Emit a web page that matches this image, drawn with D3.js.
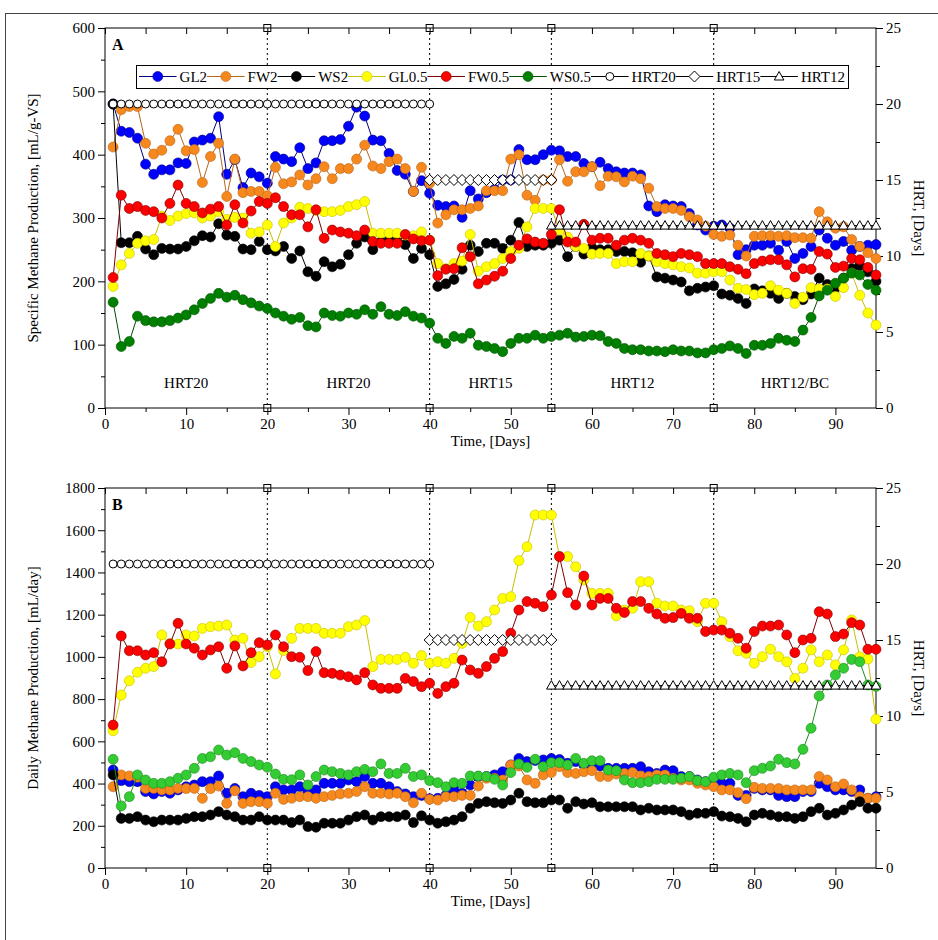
<!DOCTYPE html>
<html><head><meta charset="utf-8">
<script src="https://cdn.jsdelivr.net/npm/d3@7"></script>
<style>
body{margin:0;background:#fff}
text{font-family:"Liberation Serif","Times New Roman",serif;fill:#000}
</style></head><body>
<svg id="chart" width="938" height="940"></svg>
<script>
// ---- data: one value per day, days 1..95 ----
const days = d3.range(1, 96);

const gl2A = [480,437,435,426,385,369,376,376,387,386,
 420,423,426,460,369,392,348,371,365,355,
 397,393,389,411,378,387,422,422,424,445,
 475,461,423,422,402,375,369,342,359,339,
 320,318,319,301,343,330,340,345,360,360,
 408,392,392,400,407,406,397,397,386,381,
 388,378,373,371,371,368,319,310,321,319,
 318,307,289,281,287,289,284,242,250,257,
 257,260,249,263,236,244,255,281,268,257,
 263,249,255,257,258];
const fw2A = [412,471,476,476,418,401,407,422,440,406,
 408,356,397,418,334,393,340,342,342,335,
 380,354,357,368,352,362,381,362,378,378,
 393,415,382,378,389,393,378,342,380,355,
 292,305,313,313,315,319,343,343,343,393,
 400,336,328,360,360,392,358,373,373,381,
 351,366,365,357,366,362,347,318,315,315,
 312,302,297,287,274,271,273,257,240,271,
 272,272,271,272,269,269,268,310,294,284,
 286,266,255,245,236];
const ws2A = [480,261,261,271,251,242,252,251,251,255,
 264,272,270,291,273,271,251,250,263,250,
 248,255,236,248,215,208,231,223,227,242,
 260,270,250,262,265,262,258,236,252,242,
 192,196,203,219,257,247,260,260,252,265,
 293,255,257,257,260,265,239,255,243,253,
 250,250,247,247,245,230,240,207,205,202,
 199,185,189,191,193,180,178,173,165,188,
 185,181,173,181,176,171,180,205,195,190,
 205,220,225,215,200];
const gl05A = [192,226,244,260,264,266,303,296,303,307,
 308,300,303,310,298,301,300,276,278,289,
 255,292,300,317,315,312,310,310,312,318,
 321,326,276,276,276,276,273,272,278,265,
 228,220,228,232,274,216,223,228,236,247,
 252,286,315,315,315,281,270,255,252,243,
 244,244,228,231,231,244,240,231,228,226,
 223,221,213,213,215,215,202,189,187,179,
 181,193,186,181,165,175,190,188,188,176,
 190,213,178,150,131];
const fw05A = [206,336,315,318,312,310,300,323,352,323,
 318,308,314,318,289,321,292,311,326,323,
 332,318,305,305,286,313,268,281,278,276,
 272,281,263,260,260,260,274,267,264,265,
 209,219,220,253,239,196,202,208,216,236,
 257,267,262,260,274,313,262,262,290,265,
 268,268,257,265,268,265,260,244,242,239,
 244,242,239,228,228,228,223,219,212,228,
 232,234,234,226,207,220,219,247,243,222,
 224,236,234,222,210];
const ws05A = [167,97,105,145,138,136,136,138,142,147,
 155,165,173,181,175,178,171,166,161,157,
 150,145,140,143,130,128,150,146,145,150,
 148,155,148,160,148,146,152,145,142,134,
 110,102,113,110,118,99,97,94,89,102,
 110,110,115,110,113,115,118,112,113,115,
 114,105,102,94,92,92,90,90,89,92,
 90,90,87,87,92,94,98,94,86,99,
 99,102,110,107,105,123,143,177,186,197,
 205,213,210,195,186];

const gl2B = [464,414,409,409,362,351,362,354,370,385,
 393,409,409,436,354,377,338,354,344,338,
 385,370,370,385,362,370,401,401,401,417,
 409,433,401,401,385,362,351,338,344,328,
 330,344,370,354,393,433,433,441,456,488,
 519,504,509,512,519,514,496,504,488,480,
 483,472,472,472,472,480,456,448,464,461,
 433,433,417,409,409,401,401,344,344,377,
 370,370,344,338,338,362,362,401,385,370,
 370,362,370,330,338];
const fw2B = [385,441,436,430,377,377,370,370,377,376,
 377,330,376,388,306,366,306,314,314,306,
 354,325,330,338,338,330,338,344,351,354,
 362,385,354,354,351,354,338,309,354,325,
 322,338,338,344,344,388,425,425,417,488,
 483,417,401,441,452,480,452,448,456,461,
 433,433,445,448,452,436,433,441,441,425,
 417,417,401,393,385,370,370,357,328,382,
 377,377,376,370,370,370,370,433,417,385,
 398,370,338,330,330];
const ws2B = [441,235,235,243,227,219,227,227,227,235,
 243,243,251,267,251,243,227,227,243,227,
 227,227,215,227,196,193,212,212,212,227,
 243,251,227,243,243,243,251,215,247,227,
 212,219,227,243,283,306,314,309,306,322,
 354,314,309,309,322,322,283,314,303,309,
 290,290,290,290,290,275,283,275,275,275,
 267,251,259,259,267,246,243,235,219,251,
 259,251,243,243,235,243,267,283,251,259,
 275,298,314,283,283];
const gl05B = [650,819,887,927,946,954,1104,1064,1061,1104,
 1099,1135,1143,1146,1151,1080,1088,973,1001,1048,
 919,1030,1088,1135,1135,1135,1112,1112,1112,1143,
 1151,1172,954,988,988,988,998,970,1006,970,
 977,970,993,1064,1187,1146,1167,1222,1277,1285,
 1456,1522,1672,1672,1672,1475,1475,1427,1364,1301,
 1301,1301,1194,1222,1230,1356,1356,1254,1241,1241,
 1222,1219,1167,1254,1254,1167,1096,1029,1017,970,
 1001,1036,1001,977,898,946,1033,977,1009,962,
 1033,1175,1000,990,705];
const fw05B = [677,1099,1029,1029,1009,1020,977,1061,1159,1061,
 1041,1009,1033,1048,946,1052,957,1020,1067,1056,
 1104,1048,1001,998,935,1025,925,922,914,906,
 891,925,867,851,851,851,898,883,859,875,
 827,859,875,985,938,922,954,993,1025,1112,
 1222,1262,1254,1238,1293,1475,1304,1246,1383,1246,
 1277,1277,1230,1210,1262,1262,1230,1203,1183,1186,
 1206,1183,1183,1120,1127,1127,1112,1088,1041,1120,
 1146,1146,1151,1104,1020,1080,1088,1214,1203,1096,
 1108,1162,1151,1036,1036];
const ws05B = [515,294,338,441,417,401,401,409,425,441,
 472,519,527,559,535,546,519,504,488,477,
 445,420,418,441,393,433,464,456,448,441,
 456,467,456,493,448,448,472,433,441,414,
 404,385,404,401,436,436,433,420,393,452,
 493,477,515,480,499,499,488,519,496,508,
 508,464,461,417,404,404,409,420,420,420,
 425,433,414,409,430,441,448,441,404,461,
 472,483,515,499,493,562,662,815,867,914,
 946,988,977,867,860];

// hydraulic retention time steps (right axis)
const hrt20Days = d3.range(1, 41);
const hrt15Days = d3.range(40, 56);
const hrt12Days = d3.range(55, 96);

// operating phases
const phaseBreaks = [20, 40, 55, 75];
const phaseEdges = [0, 20, 40, 55, 75, 95];
const phaseNames = ["HRT20", "HRT20", "HRT15", "HRT12", "HRT12/BC"];

// tick labels
const dayTicks = d3.range(0, 91, 10);
const specTicks = [0, 100, 200, 300, 400, 500, 600];
const dailyTicks = [0, 200, 400, 600, 800, 1000, 1200, 1400, 1600, 1800];
const hrtTicks = [0, 5, 10, 15, 20, 25];

const seriesNames = ["GL2", "FW2", "WS2", "GL0.5", "FW0.5", "WS0.5"];
const seriesFill = ["#0000ff", "#f7881e", "#000000", "#ffff00", "#ff0000", "#008000"];
const seriesLine = ["#000080", "#b8661a", "#000000", "#c8c000", "#800000", "#005000"];
const ws05FillB = "#33cc33";
const ws05LineB = "#1f8a1f";

// ---- drawing ----
const svg = d3.select("#chart");
const FONT = 15;
const fmt = d3.format("d");

svg.append("rect").attr("x", 5.5).attr("y", 13.5).attr("width", 960).attr("height", 960)
  .attr("fill", "none").attr("stroke", "#444").attr("stroke-width", 1);

const x = d3.scaleLinear().domain([0, 95]).range([105, 876]);

function marker(sel, shape, cx, cy) {
  if (shape === "circle") {
    sel.append("circle").attr("cx", cx).attr("cy", cy).attr("r", 4)
      .attr("fill", "#fff").attr("stroke", "#000").attr("stroke-width", 1);
  } else if (shape === "diamond") {
    sel.append("path").attr("d", `M${cx},${cy-5.5}L${cx+5.5},${cy}L${cx},${cy+5.5}L${cx-5.5},${cy}Z`)
      .attr("fill", "#fff").attr("stroke", "#000").attr("stroke-width", 1);
  } else {
    sel.append("path").attr("d", `M${cx},${cy-5}L${cx+4.8},${cy+3.5}L${cx-4.8},${cy+3.5}Z`)
      .attr("fill", "#fff").attr("stroke", "#000").attr("stroke-width", 1);
  }
}

function drawPanel(p) {
  const g = svg.append("g");
  const y = d3.scaleLinear().domain([0, p.yMax]).range([p.bottom, p.top]);
  const yr = d3.scaleLinear().domain([0, 25]).range([p.bottom, p.top]);

  // phase dividers
  phaseBreaks.forEach(d => {
    g.append("line").attr("x1", x(d)).attr("x2", x(d)).attr("y1", p.top).attr("y2", p.bottom)
      .attr("stroke", "#000").attr("stroke-width", 1).attr("stroke-dasharray", "2,3");
    [p.top, p.bottom].forEach(yy => {
      g.append("rect").attr("x", x(d) - 3.5).attr("y", yy - 3.5).attr("width", 7).attr("height", 7)
        .attr("fill", "#fff").attr("stroke", "#000").attr("stroke-width", 1);
    });
  });

  if (p.phaseLabels) {
    phaseNames.forEach((t, i) => {
      g.append("text").attr("x", x((phaseEdges[i] + phaseEdges[i + 1]) / 2)).attr("y", p.bottom - 20)
        .attr("text-anchor", "middle").attr("font-size", FONT).text(t);
    });
  }

  // axes
  const clean = a => a.call(s => s.select(".domain").remove()).attr("font-size", FONT)
    .attr("font-family", "Liberation Serif, serif");
  clean(g.append("g").attr("transform", `translate(${x(0)},0)`)
    .call(d3.axisLeft(y).tickValues(p.yTicks).tickFormat(fmt).tickSize(7).tickSizeOuter(0).tickPadding(3)));
  clean(g.append("g").attr("transform", `translate(${x(0)},0)`)
    .call(d3.axisLeft(y).tickValues(d3.range(p.yMinor, p.yMax, p.yMinor * 2)).tickSize(4).tickFormat("")));
  clean(g.append("g").attr("transform", `translate(${x(95)},0)`)
    .call(d3.axisRight(yr).tickValues(hrtTicks).tickFormat(fmt).tickSize(7).tickSizeOuter(0).tickPadding(3)));
  clean(g.append("g").attr("transform", `translate(${x(95)},0)`)
    .call(d3.axisRight(yr).tickValues(d3.range(2.5, 25, 5)).tickSize(4).tickFormat("")));
  clean(g.append("g").attr("transform", `translate(0,${p.bottom})`)
    .call(d3.axisBottom(x).tickValues(dayTicks).tickFormat(fmt).tickSize(7).tickSizeOuter(0).tickPadding(3)));
  clean(g.append("g").attr("transform", `translate(0,${p.bottom})`)
    .call(d3.axisBottom(x).tickValues(d3.range(5, 95, 10)).tickSize(4).tickFormat("")));
  clean(g.append("g").attr("transform", `translate(0,${p.top})`)
    .call(d3.axisTop(x).tickValues(d3.range(0, 95, 5)).tickSize(-6).tickFormat("")));

  g.append("rect").attr("x", x(0)).attr("y", p.top).attr("width", x(95) - x(0))
    .attr("height", p.bottom - p.top).attr("fill", "none").attr("stroke", "#000").attr("stroke-width", 1);

  // axis titles
  g.append("text").attr("transform", `translate(38,${(p.top + p.bottom) / 2}) rotate(-90)`)
    .attr("text-anchor", "middle").attr("font-size", FONT).text(p.yTitle);
  g.append("text").attr("transform", `translate(914,${(p.top + p.bottom) / 2}) rotate(90)`)
    .attr("text-anchor", "middle").attr("font-size", FONT).text("HRT, [Days]");
  g.append("text").attr("x", (x(0) + x(95)) / 2).attr("y", p.bottom + 38)
    .attr("text-anchor", "middle").attr("font-size", FONT).text("Time, [Days]");
  g.append("text").attr("x", x(0) + 7).attr("y", p.top + 22).attr("font-size", 16)
    .attr("font-weight", "bold").text(p.letter);

  // data series
  const line = d3.line().x((d, i) => x(days[i])).y(d => y(d));
  p.series.forEach((vals, k) => {
    const fill = p.fills[k], stroke = p.lines[k];
    g.append("path").attr("d", line(vals)).attr("fill", "none").attr("stroke", stroke).attr("stroke-width", 1);
    g.append("g").selectAll("circle").data(vals).join("circle")
      .attr("cx", (d, i) => x(days[i])).attr("cy", d => y(d)).attr("r", 5)
      .attr("fill", fill).attr("stroke", stroke).attr("stroke-width", 0.6);
  });

  // HRT steps
  [[hrt20Days, 20, "circle"], [hrt15Days, 15, "diamond"], [hrt12Days, 12, "triangle"]].forEach(([ds, lv, shape]) => {
    g.append("line").attr("x1", x(ds[0])).attr("x2", x(ds[ds.length - 1]))
      .attr("y1", yr(lv)).attr("y2", yr(lv)).attr("stroke", "#000").attr("stroke-width", 1);
    const mg = g.append("g");
    ds.forEach(d => marker(mg, shape, x(d), yr(lv)));
  });
}

drawPanel({
  top: 28, bottom: 408, yMax: 600, yTicks: specTicks, yMinor: 50,
  yTitle: "Specific Methane Production, [mL/g-VS]", letter: "A", phaseLabels: true,
  series: [gl2A, fw2A, ws2A, gl05A, fw05A, ws05A], fills: seriesFill, lines: seriesLine
});
drawPanel({
  top: 488, bottom: 868, yMax: 1800, yTicks: dailyTicks, yMinor: 100,
  yTitle: "Daily Methane Production, [mL/day]", letter: "B", phaseLabels: false,
  series: [gl2B, fw2B, ws2B, gl05B, fw05B, ws05B],
  fills: seriesFill.slice(0, 5).concat([ws05FillB]), lines: seriesLine.slice(0, 5).concat([ws05LineB])
});

// legend (panel A)
(function legend() {
  const lx0 = 136, lx1 = 848, ly0 = 65, ly1 = 88, cy = (ly0 + ly1) / 2;
  const lg = svg.append("g");
  lg.append("rect").attr("x", lx0 + 0.5).attr("y", ly0 + 0.5).attr("width", lx1 - lx0).attr("height", ly1 - ly0)
    .attr("fill", "#fff").attr("stroke", "#000").attr("stroke-width", 1);
  const names = seriesNames.concat(["HRT20", "HRT15", "HRT12"]);
  const texts = names.map(n => lg.append("text").attr("font-size", FONT).attr("y", cy + 5).text(n));
  const tw = texts.map(t => t.node().getComputedTextLength());
  const gap = 3;
  const sym = (lx1 - lx0 - 6 - d3.sum(tw) - names.length * gap) / names.length;
  let cx = lx0 + 3;
  names.forEach((n, i) => {
    lg.append("line").attr("x1", cx).attr("x2", cx + sym).attr("y1", cy).attr("y2", cy)
      .attr("stroke", i < 6 ? seriesLine[i] : "#000").attr("stroke-width", 1);
    const mx = cx + sym / 2;
    if (i < 6) {
      lg.append("circle").attr("cx", mx).attr("cy", cy).attr("r", 5)
        .attr("fill", seriesFill[i]).attr("stroke", seriesLine[i]).attr("stroke-width", 0.6);
    } else {
      marker(lg, ["circle", "diamond", "triangle"][i - 6], mx, cy);
    }
    texts[i].attr("x", cx + sym + gap).raise();
    cx += sym + gap + tw[i];
  });
})();
</script>
</body></html>
